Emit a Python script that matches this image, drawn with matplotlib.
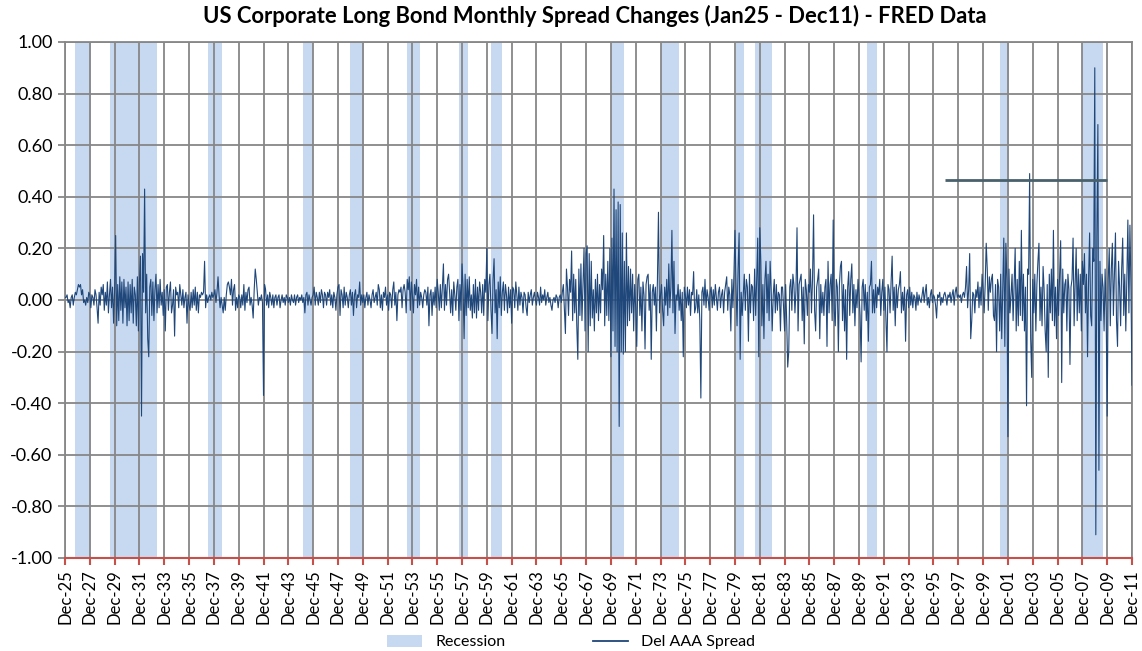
import numpy as np
import matplotlib
matplotlib.use("Agg")
import matplotlib.pyplot as plt
from matplotlib.patches import Patch
from matplotlib.lines import Line2D

plt.rcParams['font.family'] = ['Lato', 'DejaVu Sans']

# monthly change in AAA spread, Dec 1925 .. Dec 2011
spread_1925_1935 = [
    0.01,
    0.01, 0.02, -0.01, 0.00, -0.03, 0.01, 0.02, -0.02, 0.01, 0.03, 0.02, 0.04,
    0.06, 0.05, 0.06, 0.02, 0.04, -0.01, 0.00, -0.02, 0.01, -0.01, 0.03, 0.02,
    -0.03, 0.02, 0.01, -0.02, 0.04, 0.02, -0.03, -0.09, 0.03, -0.02, 0.05, 0.02,
    0.06, -0.04, 0.03, -0.02, 0.07, -0.05, 0.02, 0.08, -0.03, 0.05, -0.09, 0.04,
    0.25, -0.10, 0.06, -0.08, 0.09, -0.04, 0.07, -0.09, 0.08, -0.03, 0.05, -0.10,
    0.07, -0.08, 0.06, -0.05, 0.08, -0.09, 0.05, 0.02, -0.10, 0.09, -0.12, 0.07,
    0.17, -0.45, 0.18, 0.03, 0.43, -0.05, 0.10, -0.15, -0.22, 0.05, 0.08, -0.06,
    0.07, -0.08, 0.04, 0.10, -0.05, 0.06, -0.03, 0.08, -0.02, 0.03, -0.06, 0.04,
    -0.12, 0.05, 0.06, -0.04, 0.03, 0.07, -0.05, -0.02, 0.04, -0.14, 0.05, 0.02,
    0.03, -0.03, 0.06, 0.02, -0.02, 0.04, -0.03, 0.01, 0.03, -0.09, 0.02, -0.02,
]
spread_1936_1945 = [
    -0.04, 0.03, -0.03, 0.04, -0.02, 0.05, -0.04, 0.03, -0.05, 0.02, 0.01, 0.03,
    0.02, 0.03, 0.15, -0.03, 0.02, -0.01, 0.01, 0.02, 0.00, 0.03, 0.01, 0.02,
    0.04, -0.01, 0.03, 0.09, 0.02, -0.03, 0.01, -0.02, -0.05, 0.01, -0.04, 0.02,
    0.06, 0.07, 0.05, 0.02, 0.08, -0.02, 0.04, 0.06, -0.04, 0.01, -0.03, 0.02,
    0.01, -0.03, 0.02, -0.02, 0.06, -0.04, 0.03, -0.01, 0.04, 0.05, -0.02, 0.01,
    -0.02, -0.07, 0.04, 0.12, 0.08, 0.03, -0.02, 0.01, 0.00, 0.02, -0.01, -0.37,
    0.06, 0.04, -0.02, 0.02, -0.03, 0.03, 0.01, -0.02, 0.02, -0.03, 0.01, 0.02,
    -0.02, 0.01, 0.02, -0.03, 0.00, 0.02, -0.01, 0.01, -0.02, 0.02, 0.01, -0.01,
    0.01, -0.02, 0.02, 0.00, -0.01, 0.02, -0.02, 0.01, 0.02, -0.01, 0.01, 0.00,
    0.02, -0.01, 0.01, -0.05, 0.02, 0.03, -0.02, 0.02, 0.00, -0.02, 0.01, 0.02,
]
spread_1946_1955 = [
    0.05, -0.02, 0.03, 0.01, -0.02, 0.03, -0.01, 0.04, 0.02, -0.03, 0.03, 0.02,
    -0.02, 0.03, 0.01, 0.04, -0.02, 0.02, -0.03, 0.03, 0.01, -0.04, 0.02, 0.05,
    0.06, -0.06, 0.04, 0.02, -0.03, 0.05, -0.02, 0.03, 0.01, -0.03, 0.02, 0.04,
    -0.02, 0.03, -0.06, 0.02, 0.04, -0.03, 0.02, 0.01, 0.07, -0.02, 0.02, -0.01,
    0.02, -0.03, 0.01, 0.03, -0.02, 0.02, 0.00, -0.03, 0.02, 0.04, -0.01, 0.01,
    0.03, -0.02, 0.06, 0.04, -0.03, 0.02, -0.04, 0.03, 0.01, 0.05, -0.02, 0.02,
    -0.04, 0.03, 0.02, -0.03, 0.04, 0.07, -0.02, 0.03, -0.08, 0.02, 0.04, 0.03,
    0.05, -0.03, 0.04, 0.06, 0.03, -0.05, 0.08, 0.04, 0.09, -0.04, 0.07, 0.02,
    -0.05, 0.06, 0.02, 0.08, -0.03, 0.05, -0.02, 0.03, 0.01, -0.03, 0.02, 0.04,
    0.03, -0.02, 0.05, -0.10, 0.02, 0.04, -0.06, 0.03, -0.02, 0.05, -0.03, 0.08,
]
spread_1956_1965 = [
    0.03, -0.04, 0.06, -0.03, 0.05, 0.14, -0.04, 0.06, -0.02, 0.08, 0.10, 0.03,
    -0.05, 0.04, -0.06, 0.07, 0.02, -0.04, 0.05, 0.08, -0.08, 0.06, -0.04, 0.14,
    0.05, -0.15, 0.10, -0.06, 0.08, -0.03, 0.09, -0.04, 0.02, -0.07, 0.06, -0.05,
    0.08, -0.07, 0.05, -0.04, 0.07, 0.03, -0.05, 0.06, -0.06, 0.08, 0.03, 0.20,
    -0.08, 0.06, 0.10, -0.04, -0.13, 0.08, 0.16, -0.05, 0.04, -0.15, 0.07, -0.03,
    0.09, -0.06, 0.03, 0.07, -0.04, 0.06, 0.02, -0.05, 0.05, -0.03, 0.04, -0.09,
    0.05, 0.04, -0.03, 0.07, 0.02, -0.04, 0.05, -0.02, 0.03, 0.01, -0.05, 0.03,
    0.02, -0.03, -0.06, 0.03, -0.01, 0.02, 0.04, -0.02, 0.01, 0.03, 0.00, -0.02,
    0.03, 0.01, -0.02, 0.05, -0.01, 0.02, 0.00, 0.04, -0.02, 0.01, 0.03, -0.01,
    0.01, -0.02, -0.04, 0.00, 0.01, -0.01, 0.02, 0.01, -0.03, 0.01, 0.02, -0.01,
]
spread_1966_1975 = [
    0.03, 0.06, -0.04, -0.13, 0.12, 0.05, -0.06, 0.08, 0.03, 0.19, -0.08, 0.10,
    -0.05, 0.08, -0.10, -0.23, 0.12, -0.06, 0.14, -0.08, 0.06, 0.20, -0.12, 0.18,
    0.21, -0.20, 0.18, -0.10, 0.15, -0.07, 0.04, -0.12, 0.08, -0.05, 0.10, -0.08,
    0.06, -0.05, 0.12, 0.04, 0.25, -0.10, 0.10, -0.06, 0.15, -0.08, 0.20, -0.22,
    0.24, -0.12, 0.43, -0.18, 0.35, -0.20, 0.38, -0.49, 0.37, -0.20, 0.26, -0.21,
    0.15, -0.20, 0.26, -0.10, 0.13, -0.08, 0.12, -0.05, 0.10, -0.12, 0.06, -0.03,
    -0.18, 0.08, 0.10, -0.06, 0.05, -0.12, 0.07, 0.02, -0.19, 0.06, 0.09, 0.10,
    -0.04, 0.06, -0.23, 0.03, 0.06, -0.02, 0.05, -0.12, 0.08, 0.34, -0.05, 0.02,
    0.06, -0.04, -0.10, 0.05, -0.02, 0.08, -0.06, 0.14, -0.03, 0.05, 0.27, -0.05,
    0.15, -0.13, 0.02, 0.00, 0.06, -0.04, 0.04, -0.08, 0.03, -0.22, 0.05, 0.02,
]
spread_1976_1985 = [
    -0.03, 0.05, -0.02, 0.04, -0.06, 0.03, 0.02, 0.11, -0.05, -0.03, 0.04, -0.05,
    0.02, -0.08, -0.38, 0.03, 0.05, -0.02, 0.08, -0.03, 0.04, 0.01, -0.04, 0.03,
    0.05, -0.03, 0.04, -0.02, 0.06, 0.01, -0.04, 0.03, 0.05, -0.03, 0.02, 0.04,
    -0.05, 0.03, 0.06, 0.09, -0.04, 0.05, 0.02, -0.12, 0.08, -0.03, 0.10, 0.27,
    0.05, -0.10, 0.12, 0.26, -0.23, 0.03, -0.06, 0.02, 0.10, -0.04, 0.08, 0.05,
    -0.16, 0.10, -0.05, 0.06, 0.05, -0.08, 0.12, -0.06, 0.08, 0.24, -0.22, 0.28,
    0.15, -0.10, 0.06, -0.15, 0.08, 0.15, -0.05, 0.10, -0.08, 0.15, 0.04, -0.12,
    0.02, 0.08, -0.05, 0.06, -0.04, 0.03, 0.02, -0.12, 0.05, 0.05, -0.03, -0.12,
    0.06, -0.08, -0.26, -0.20, 0.05, 0.08, -0.04, 0.10, 0.06, -0.05, 0.04, 0.28,
    -0.12, 0.06, 0.08, 0.10, -0.08, 0.05, -0.17, 0.08, 0.04, -0.06, 0.06, 0.03,
]
spread_1986_1995 = [
    0.12, -0.05, 0.08, 0.33, -0.04, -0.12, 0.05, 0.08, 0.12, -0.15, 0.06, -0.05,
    0.03, -0.06, 0.05, 0.08, -0.18, 0.15, -0.05, 0.06, 0.10, -0.08, 0.31, -0.04,
    -0.10, 0.08, 0.05, -0.20, 0.06, 0.13, 0.15, -0.08, 0.06, -0.12, 0.04, -0.23,
    0.05, 0.11, -0.06, 0.08, 0.14, -0.05, 0.06, -0.10, 0.04, -0.03, 0.08, 0.02,
    -0.06, -0.24, 0.05, 0.08, -0.04, 0.06, -0.08, 0.03, -0.16, 0.05, 0.06, 0.15,
    -0.05, 0.04, -0.05, 0.06, -0.03, 0.05, 0.02, 0.08, -0.06, 0.03, 0.08, -0.04,
    0.05, -0.08, -0.20, 0.06, 0.04, -0.05, 0.07, 0.17, -0.04, 0.05, -0.10, 0.06,
    -0.03, 0.04, 0.06, 0.11, -0.05, 0.03, -0.04, 0.05, -0.16, 0.02, 0.04, -0.03,
    0.05, -0.02, 0.03, -0.03, 0.02, 0.01, -0.04, 0.03, -0.02, 0.02, 0.00, -0.01,
    0.02, 0.05, -0.01, 0.03, 0.06, -0.02, 0.01, -0.03, 0.02, 0.04, -0.01, 0.02,
]
spread_1996_2011 = [
    0.01, -0.02, -0.07, 0.02, 0.01, 0.03, -0.02, 0.01, -0.01, 0.02, 0.03, 0.01,
    -0.02, 0.02, 0.01, 0.03, -0.01, 0.02, 0.04, -0.02, 0.03, 0.05, 0.01, 0.02,
    0.01, 0.02, -0.01, 0.02, 0.03, 0.01, 0.05, 0.13, -0.03, 0.04, 0.18, -0.15,
    -0.08, 0.03, 0.02, -0.05, 0.04, 0.01, 0.07, -0.03, 0.05, -0.02, 0.10, 0.04,
    -0.05, 0.06, 0.22, 0.12, -0.04, 0.09, 0.03, 0.08, 0.10, -0.06, -0.08, 0.06,
    -0.20, 0.08, 0.05, -0.12, 0.10, -0.15, 0.05, 0.24, -0.18, 0.22, 0.08, -0.53,
    0.12, -0.05, 0.02, 0.10, -0.08, 0.06, 0.20, -0.12, 0.08, -0.10, 0.15, -0.06,
    0.27, -0.08, 0.10, -0.12, 0.05, -0.41, 0.12, 0.10, 0.49, -0.15, -0.30, 0.08,
    -0.05, 0.10, -0.12, 0.06, 0.15, 0.22, -0.08, 0.05, -0.10, 0.13, 0.04, -0.12,
    -0.20, 0.06, -0.30, 0.10, -0.05, 0.12, -0.08, 0.27, -0.10, 0.05, -0.15, 0.08,
    -0.06, 0.10, 0.23, -0.32, 0.12, -0.05, 0.06, 0.08, -0.12, 0.10, 0.04, -0.25,
    0.05, 0.08, 0.24, -0.10, 0.06, 0.20, -0.08, 0.12, -0.05, 0.10, -0.12, 0.15,
    0.06, 0.18, -0.05, 0.10, -0.22, 0.08, 0.26, -0.06, -0.10, 0.20, 0.15, 0.90,
    -0.91, 0.25, 0.68, -0.66, 0.15, -0.08, 0.10, 0.05, -0.12, 0.12, -0.05, -0.45,
    0.08, 0.20, -0.10, 0.12, 0.22, -0.06, 0.10, 0.26, -0.08, -0.18, 0.15, 0.05,
    -0.10, 0.12, 0.24, -0.06, 0.10, -0.12, 0.08, 0.31, -0.05, 0.29, 0.05, -0.33,
]

# recession shading (start, end) as shown on the chart
recessions = [
    ("1926-10", "1928-01"), ("1929-08", "1933-05"), ("1937-06", "1938-08"),
    ("1945-02", "1945-12"), ("1948-12", "1950-01"), ("1953-07", "1954-07"),
    ("1957-09", "1958-06"), ("1960-04", "1961-03"), ("1969-12", "1971-01"),
    ("1973-12", "1975-06"), ("1980-01", "1980-09"), ("1981-07", "1982-12"),
    ("1990-08", "1991-05"), ("2001-04", "2002-01"), ("2007-12", "2009-08"),
]

# reference level line
ref_level = 0.465
ref_start, ref_end = "1996-11", "2009-12"


def month_idx(s):
    # months since Dec 1925
    y, m = s.split("-")
    return (int(y) - 1926) * 12 + int(m)


values = (spread_1925_1935 + spread_1936_1945 + spread_1946_1955 + spread_1956_1965
          + spread_1966_1975 + spread_1976_1985 + spread_1986_1995 + spread_1996_2011)
x = np.arange(len(values))

fig = plt.figure(figsize=(11.42, 6.51), dpi=100)
ax = fig.add_axes([65 / 1142, 1 - 558 / 651, (1132 - 65) / 1142, (558 - 42) / 651])

band_col = "#c6d9f1"
line_col = "#1f477a"
grid_col = "#878787"

for s, e in recessions:
    ax.axvspan(month_idx(s), month_idx(e), color=band_col, lw=0, zorder=0)

ax.plot(x, values, color=line_col, lw=0.8, zorder=3)
ax.hlines(ref_level, month_idx(ref_start), month_idx(ref_end), color="#48616c", lw=2.0, zorder=4)

ax.set_xlim(0, 1032)
ax.set_ylim(-1.0, 1.0)
yt = np.round(np.arange(-1.0, 1.01, 0.2), 2)
ax.set_yticks(yt)
ax.set_yticklabels([f"{v + 0.0:.2f}" for v in yt], fontsize=13)

xt = np.arange(0, 1033, 24)
ax.set_xticks(xt)
ax.set_xticklabels([f"Dec-{(1925 + i // 12) % 100:02d}" for i in xt], rotation=90, fontsize=12)

ax.grid(True, color=grid_col, lw=1.3, zorder=1)
ax.set_axisbelow(False)
for sp in ["left", "right", "top"]:
    ax.spines[sp].set_color(grid_col)
    ax.spines[sp].set_linewidth(1.3)
ax.spines["bottom"].set_color("#c8504b")
ax.spines["bottom"].set_linewidth(1.5)
ax.spines["bottom"].set_zorder(5)
ax.tick_params(axis="x", colors="#c8504b", length=5, width=1.5, labelcolor="black", pad=3)
ax.tick_params(axis="y", colors=grid_col, length=5, width=1.3, labelcolor="black", pad=4)

fig.text(595 / 1142, 1 - 16 / 651, "US Corporate Long Bond Monthly Spread Changes (Jan25 - Dec11) - FRED Data",
         ha="center", va="center", fontsize=15.8, fontweight="bold")

handles = [Patch(facecolor=band_col, edgecolor="none"),
           Line2D([], [], color=line_col, lw=1.3)]
fig.legend(handles, ["Recession", "Del AAA Spread"], loc="center",
           bbox_to_anchor=(0.5, 1 - 642 / 651), ncol=2, frameon=False,
           fontsize=11.5, handlelength=2.2, handleheight=0.8, columnspacing=5.5)

fig.savefig("out.png", dpi=100)
